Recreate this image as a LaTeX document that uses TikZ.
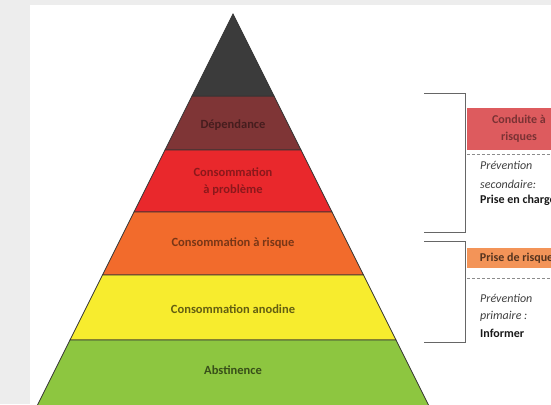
\documentclass[tikz,border=0pt]{standalone}
\usepackage{fontspec}
\setmainfont{Carlito}

\definecolor{tipc}{HTML}{3B3B3B}
\definecolor{dependc}{HTML}{7F3536}
\definecolor{problemc}{HTML}{E9282C}
\definecolor{risquec}{HTML}{F26B2C}
\definecolor{anodinc}{HTML}{F7EC2E}
\definecolor{abstinc}{HTML}{8DC640}
\definecolor{conduitec}{HTML}{DD5B5E}
\definecolor{prisec}{HTML}{F39458}

\tikzset{
    layerlabel/.style={font=\bfseries\fontsize{12.5}{17}\selectfont, align=center, inner sep=0pt},
    sidebox/.style={minimum width=104pt, align=center, inner sep=0pt,
        font=\bfseries\fontsize{12}{17}\selectfont},
    sidenote/.style={anchor=west, inner sep=0pt, font=\fontsize{12}{14}\selectfont},
    brackline/.style={draw=black!60, line width=0.8pt},
    sepline/.style={draw=black!45, densely dashed, line width=0.6pt}
}

\begin{document}
\begin{tikzpicture}[x=1pt, y=-1pt]
    % Page with a grey margin on the left and at the top
    \fill[black!7] (0,0) rectangle (551,404);
    \fill[white] (30,5) rectangle (551,404);
    \clip (0,0) rectangle (551,404);

    % Layers of the pyramid: top/bottom/colour
    \foreach \ya/\yb/\col in {
        96/150/dependc, 150/212/problemc, 212/275/risquec,
        275/340/anodinc, 340/420/abstinc}
    {
        \pgfmathsetmacro{\ha}{0.5*(\ya-14)}
        \pgfmathsetmacro{\hb}{0.5*(\yb-14)}
        \filldraw[fill=\col, draw=black!80, line width=0.7pt]
            (233-\ha,\ya) -- (233+\ha,\ya) -- (233+\hb,\yb) -- (233-\hb,\yb) -- cycle;
    }
    % Dark tip
    \filldraw[fill=tipc, draw=black!80, line width=0.7pt] (233,14) -- (274,96) -- (192,96) -- cycle;

    % Labels of the layers
    \node[layerlabel, text=dependc!55!black] (depend) at (233,125) {Dépendance};
    \node[layerlabel, text=problemc!60!black] (problem) at (233,182) {Consommation\\à problème};
    \node[layerlabel, text=risquec!50!black] (risque) at (233,243) {Consommation à risque};
    \node[layerlabel, text=anodinc!40!black] (anodin) at (233,309) {Consommation anodine};
    \node[layerlabel, text=abstinc!40!black] (abstin) at (233,370) {Abstinence};

    % Brackets
    \coordinate (upa) at (424,93);
    \coordinate (upb) at (465,93);
    \coordinate (upc) at (465,232);
    \coordinate (upd) at (424,232);
    \draw[brackline] (upa) -- (upb) -- (upc) -- (upd);
    \coordinate (loa) at (424,241);
    \coordinate (lob) at (465,241);
    \coordinate (loc) at (465,342);
    \coordinate (lod) at (424,342);
    \draw[brackline] (loa) -- (lob) -- (loc) -- (lod);

    % Upper group
    \node[sidebox, fill=conduitec, text=conduitec!55!black, minimum height=42pt]
        (conduite) at (519,129) {Conduite à\\risques};
    \draw[sepline] ([yshift=-4pt]conduite.south west) -- ([yshift=-4pt]conduite.south east);
    \node[sidenote, text=black!75] (prevsec) at (480,165) {\itshape Prévention};
    \node[sidenote, text=black!75] (second) at (480,184) {\itshape secondaire:};
    \node[sidenote, text=black!90] (charge) at (480,200) {\bfseries Prise en charge};

    % Lower group
    \node[sidebox, fill=prisec, text=prisec!35!black, minimum height=20pt]
        (prise) at (519,258) {Prise de risques};
    \draw[sepline] ([yshift=-10pt]prise.south west) -- ([yshift=-10pt]prise.south east);
    \node[sidenote, text=black!75] (prevprim) at (480,298) {\itshape Prévention};
    \node[sidenote, text=black!75] (primaire) at (480,316) {\itshape primaire :};
    \node[sidenote, text=black!90] (informer) at (480,333) {\bfseries Informer};
\end{tikzpicture}
\end{document}
